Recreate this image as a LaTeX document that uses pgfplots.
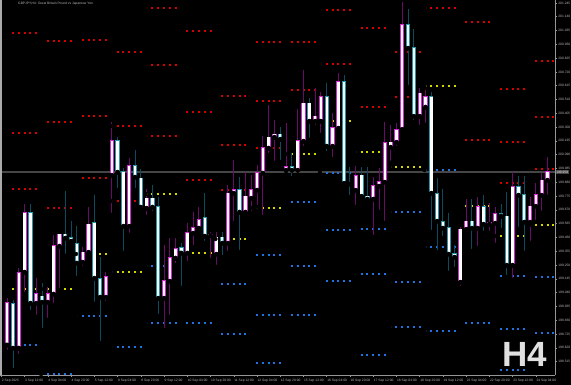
\documentclass[border=0pt]{standalone}
\usepackage{fontspec}
\setmainfont{Liberation Sans}
\usepackage{pgfplots}
\usepackage{pgfplotstable}
\pgfplotsset{compat=1.18}
\definecolor{bullline}{RGB}{215,40,215}
\definecolor{bullwick}{RGB}{105,12,105}
\definecolor{bearline}{RGB}{40,150,170}
\definecolor{bearwick}{RGB}{12,75,95}
\definecolor{lvlred}{RGB}{215,0,0}
\definecolor{lvlyel}{RGB}{215,215,0}
\definecolor{lvlblue}{RGB}{30,115,225}
\definecolor{axisgray}{RGB}{150,150,150}
\definecolor{labelgray}{RGB}{185,185,185}
\definecolor{bidgray}{RGB}{70,70,70}

% bullish candles: bar index, open, high, low, close
\pgfplotstableread{
i o h l c
0 198.642 198.999 198.589 198.961
2 198.619 199.228 198.558 199.190
3 199.197 199.715 199.030 199.646
5 198.961 199.151 198.855 199.030
7 198.969 199.083 198.832 199.030
8 199.030 199.479 198.946 199.395
9 199.395 199.486 199.060 199.486
13 199.273 199.387 199.228 199.349
14 199.349 199.692 199.326 199.562
17 199.007 199.197 198.961 199.159
18 199.935 200.339 199.631 200.194
21 199.547 200.065 199.479 200.004
24 199.684 199.829 199.616 199.760
27 198.999 199.403 198.756 199.129
28 199.129 199.456 198.855 199.304
29 199.304 199.456 199.250 199.372
31 199.342 199.570 199.266 199.494
32 199.494 199.654 199.387 199.532
33 199.532 199.692 199.501 199.593
35 199.475 199.501 199.288 199.479
36 199.334 199.501 199.235 199.463
38 199.418 199.859 199.342 199.798
39 199.798 200.049 199.570 199.821
41 199.654 199.958 199.631 199.775
42 199.760 199.935 199.646 199.821
43 199.821 200.011 199.692 199.951
44 199.951 200.232 199.616 200.141
45 200.141 200.468 200.087 200.224
46 200.224 200.354 200.027 200.247
48 199.973 200.331 199.966 199.996
50 199.973 200.437 199.935 200.194
51 200.194 200.734 200.141 200.483
53 200.346 200.597 200.301 200.384
54 200.346 200.567 200.240 200.529
56 200.156 200.407 200.057 200.293
57 200.293 200.711 200.262 200.643
60 199.821 200.004 199.692 199.928
63 199.753 199.920 199.463 199.852
64 199.852 199.989 199.654 199.882
65 199.882 200.339 199.570 200.179
66 200.148 200.316 200.027 200.186
67 200.186 200.331 200.141 200.278
68 200.285 201.252 200.255 201.077
71 200.384 200.597 200.301 200.559
72 200.453 200.582 200.316 200.529
78 199.121 199.540 199.075 199.524
79 199.524 199.753 199.494 199.585
81 199.532 199.768 199.380 199.692
83 199.562 199.722 199.494 199.570
84 199.570 199.692 199.403 199.639
87 199.250 199.958 199.136 199.844
90 199.578 199.768 199.418 199.699
91 199.699 199.874 199.578 199.783
92 199.783 199.951 199.646 199.897
93 199.897 200.072 199.768 199.958
}\bull

% bearish candles
\pgfplotstableread{
i o h l c
1 198.954 198.984 198.451 198.619
4 199.646 199.715 198.893 198.961
6 199.014 199.113 198.756 198.969
10 199.486 199.814 199.319 199.456
11 199.456 199.585 199.410 199.433
12 199.410 199.547 199.151 199.266
15 199.570 199.783 198.954 199.151
16 199.144 199.311 198.657 199.007
19 200.194 200.224 199.821 199.958
20 199.958 199.989 199.342 199.547
22 200.004 200.126 199.821 199.920
23 199.912 199.981 199.654 199.692
25 199.760 199.859 199.646 199.692
26 199.692 199.768 198.862 198.999
30 199.380 199.418 199.075 199.342
34 199.608 199.798 199.418 199.471
37 199.463 199.501 199.311 199.418
40 199.821 199.920 199.349 199.654
47 200.247 200.301 200.034 200.209
49 199.996 200.103 199.912 199.973
52 200.483 200.521 200.202 200.346
55 200.529 200.635 200.103 200.156
58 200.643 200.696 199.859 199.874
59 199.874 199.996 199.768 199.867
61 199.935 199.996 199.745 199.775
62 199.775 199.996 199.722 199.753
69 201.077 201.199 200.605 200.902
70 200.902 201.046 200.339 200.384
73 200.529 200.567 199.501 199.798
74 199.791 199.912 199.349 199.585
75 199.578 199.829 199.456 199.532
76 199.532 199.646 199.190 199.334
77 199.334 199.403 199.220 199.311
80 199.585 199.753 199.357 199.532
82 199.692 199.783 199.494 199.562
85 199.639 199.715 199.517 199.623
86 199.623 199.806 199.159 199.250
88 199.844 199.928 199.524 199.783
89 199.783 199.928 199.342 199.578
}\bear

% daily pivot levels: first bar of the day, level
\pgfplotstableread{
b v
0 201.016
0 200.255
0 199.829
6 199.684
6 200.339
6 200.955
12 199.912
12 200.384
12 200.963
18 199.737
18 200.308
18 200.871
24 200.232
24 200.772
24 201.206
30 199.897
30 200.415
30 201.031
36 199.821
36 200.164
36 200.536
42 200.141
42 200.498
42 200.947
48 200.582
48 200.947
54 200.780
54 201.191
60 200.453
60 201.054
66 200.529
66 200.871
72 201.206
78 200.202
78 201.100
84 199.874
84 200.186
84 200.590
90 199.981
90 200.377
90 200.803
}\res

\pgfplotstableread{
b v
0 199.068
6 199.068
12 199.334
18 199.197
24 199.791
30 199.342
36 199.448
42 199.684
48 200.095
54 200.346
60 200.110
66 199.996
72 200.613
78 199.699
84 199.471
90 199.555
}\piv

\pgfplotstableread{
b v
0 198.642
6 198.421
12 198.862
18 198.626
24 199.243
24 198.809
30 198.809
36 199.106
36 198.725
42 199.326
42 198.870
42 198.505
48 199.730
48 199.243
48 198.870
54 199.951
54 199.517
54 199.129
60 199.524
60 199.182
60 198.565
66 199.654
66 199.121
66 198.779
72 199.973
72 199.387
72 198.748
78 198.809
84 199.167
84 198.763
84 198.451
90 199.159
90 198.733
}\sup

\pgfplotsset{
  lvl/.style={only marks, mark=none, error bars/.cd, x dir=plus, x fixed=5.344,
    error mark=none, error bar style={draw=#1, line width=2pt, dash pattern=on 2pt off 3.81pt}},
  wick/.style={only marks, mark=none, error bars/.cd, y dir=plus, y explicit,
    error mark=none, error bar style={draw=#1, line width=1pt}},
  body/.style 2 args={only marks, mark=none, error bars/.cd, y dir=plus, y explicit,
    error mark=none, error bar style={draw=#1, line width=#2}},
}

\begin{document}
\begin{tikzpicture}
\useasboundingbox (0,0) rectangle (571pt,385pt);
\fill[black] (0,0) rectangle (571pt,385pt);
\begin{axis}[
  at={(0pt,10pt)}, anchor=south west,
  scale only axis, width=555pt, height=375pt,
  xmin=-1.239, xmax=94.286, ymin=198.413, ymax=201.267,
  axis x line=bottom, axis y line=right,
  axis line style={-, draw=axisgray, line width=0.8pt},
  tick align=outside, major tick length=2pt,
  tick style={draw=axisgray, line width=0.5pt},
  xtick={-1,3,...,91},
  xticklabels={2 Sep 2025,3 Sep 12:00,4 Sep 04:00,4 Sep 20:00,5 Sep 12:00,8 Sep 04:00,8 Sep 20:00,9 Sep 12:00,10 Sep 04:00,10 Sep 20:00,11 Sep 12:00,12 Sep 04:00,12 Sep 20:00,15 Sep 12:00,16 Sep 04:00,16 Sep 20:00,17 Sep 12:00,18 Sep 04:00,18 Sep 20:00,19 Sep 12:00,22 Sep 04:00,22 Sep 20:00,23 Sep 12:00,24 Sep 04:00},
  ytick={201.245,201.140,201.035,200.930,200.825,200.720,200.615,200.510,200.405,200.300,200.195,200.090,199.985,199.880,199.775,199.670,199.565,199.460,199.355,199.250,199.145,199.040,198.935,198.830,198.725,198.620,198.515},
  yticklabels={201.245,201.140,201.035,200.930,200.825,200.720,200.615,200.510,200.405,200.300,200.195,200.090,199.985,199.880,199.775,199.670,199.565,199.460,199.355,199.250,199.145,199.040,198.935,198.830,198.725,198.620,198.515},
  ticklabel style={font=\fontsize{3.3}{4}\selectfont, text=labelgray, inner sep=0pt},
  xticklabel style={anchor=north west, yshift=-2pt, xshift=0.4pt},
  yticklabel style={anchor=west, xshift=1.2pt},
]
\addplot[draw=bidgray, line width=1.5pt] coordinates {(-1.239,199.958) (94.286,199.958)};
\addplot[lvl=lvlred] table[x expr=\thisrow{b}-0.172, y=v] {\res};
\addplot[lvl=lvlyel] table[x expr=\thisrow{b}-0.172, y=v] {\piv};
\addplot[lvl=lvlblue] table[x expr=\thisrow{b}-0.172, y=v] {\sup};
\addplot[wick=bullwick] table[x=i, y=l, y error expr=\thisrow{h}-\thisrow{l}] {\bull};
\addplot[wick=bearwick] table[x=i, y=l, y error expr=\thisrow{h}-\thisrow{l}] {\bear};
\addplot[body={bullline}{4.2pt}] table[x=i, y expr={min(\thisrow{o},\thisrow{c})-0.0038}, y error expr={abs(\thisrow{c}-\thisrow{o})+0.0076}] {\bull};
\addplot[body={bearline}{4.2pt}] table[x=i, y expr={min(\thisrow{o},\thisrow{c})-0.0038}, y error expr={abs(\thisrow{c}-\thisrow{o})+0.0076}] {\bear};
\addplot[body={white}{2.4pt}] table[x=i, y expr={min(\thisrow{o},\thisrow{c})}, y error expr={abs(\thisrow{c}-\thisrow{o})}] {\bull};
\addplot[body={white}{2.4pt}] table[x=i, y expr={min(\thisrow{o},\thisrow{c})}, y error expr={abs(\thisrow{c}-\thisrow{o})}] {\bear};
\end{axis}
\draw[draw=axisgray!80, line width=1.5pt] (0.75pt,10pt) -- (0.75pt,385pt);
\node[anchor=west, fill=bidgray, text=white, inner sep=0.6pt, font=\fontsize{3.3}{4}\selectfont] at (555.5pt,213pt) {199.958};
\node[anchor=north west, text=labelgray, inner sep=0pt, font=\fontsize{3.3}{4}\selectfont] at (18pt,383.5pt) {GBPJPY,H4: Great Britain Pound vs Japanese Yen};
\node[anchor=base west, text=white!88!black, inner sep=0pt, font=\fontsize{35}{35}\selectfont\bfseries] at (502pt,18pt) {H4};
\end{tikzpicture}
\end{document}
